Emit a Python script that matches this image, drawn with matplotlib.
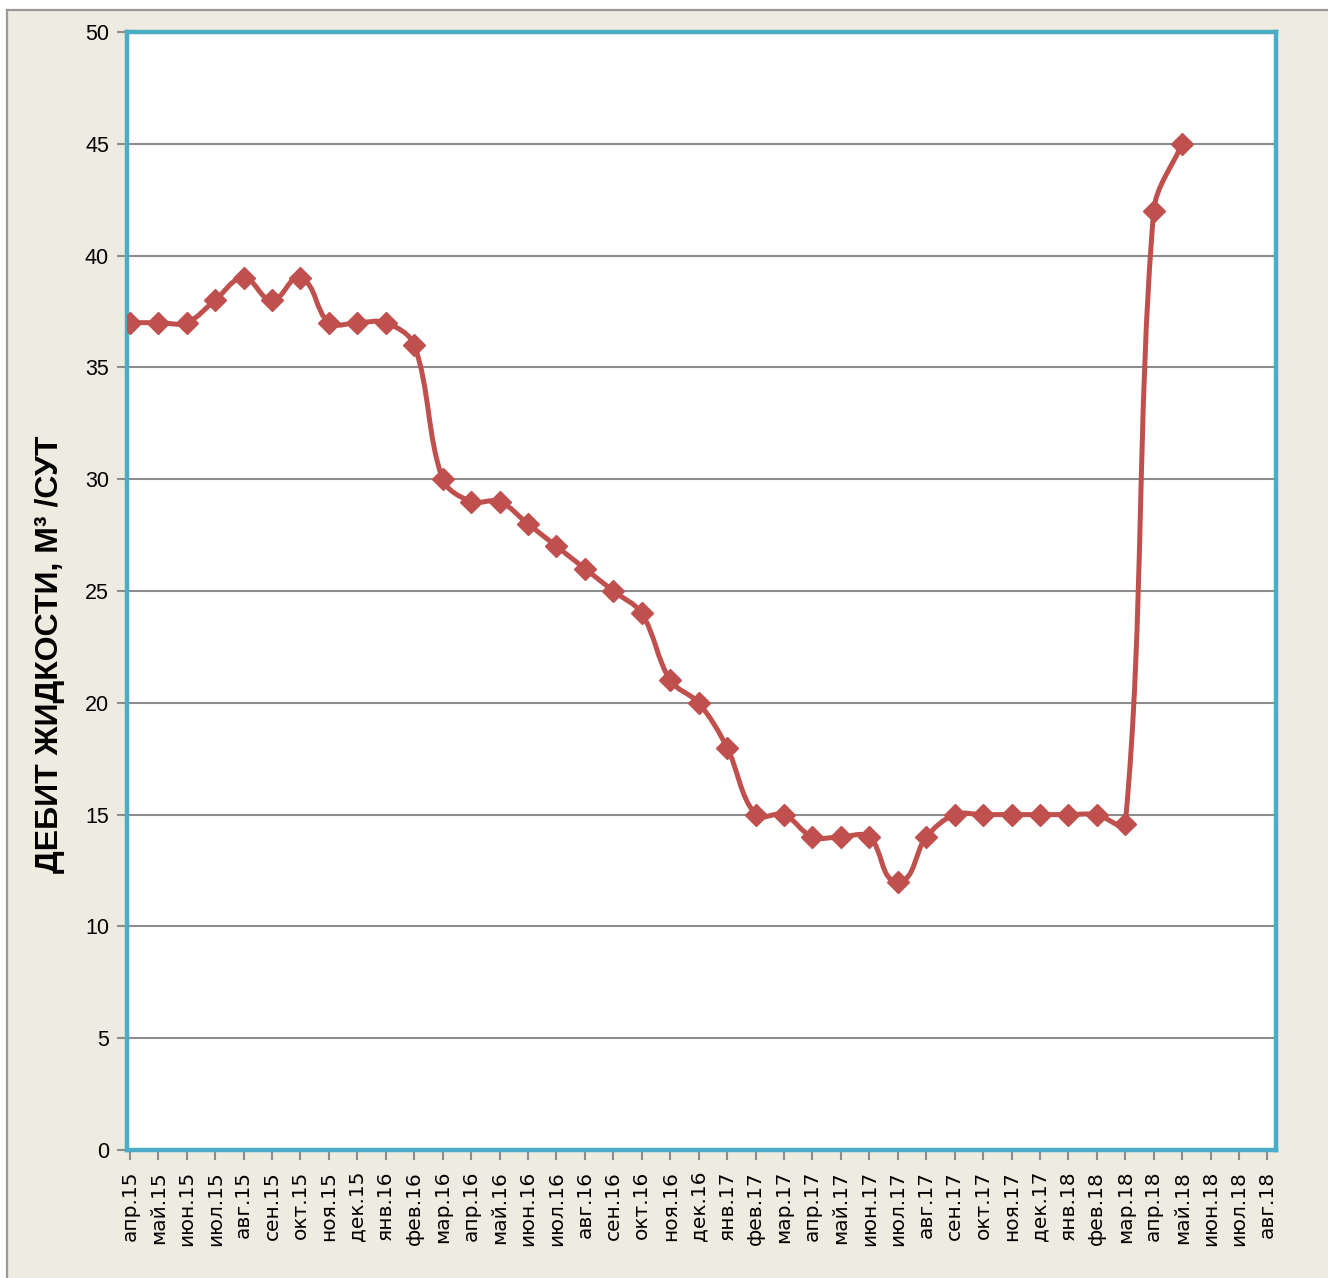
import numpy as np
import matplotlib
matplotlib.use("Agg")
import matplotlib.pyplot as plt
from matplotlib.path import Path
from matplotlib.patches import PathPatch, Rectangle

# категории (месяцы) и значения дебита
months = ["апр.15", "май.15", "июн.15", "июл.15", "авг.15", "сен.15", "окт.15",
          "ноя.15", "дек.15", "янв.16", "фев.16", "мар.16", "апр.16", "май.16",
          "июн.16", "июл.16", "авг.16", "сен.16", "окт.16", "ноя.16", "дек.16",
          "янв.17", "фев.17", "мар.17", "апр.17", "май.17", "июн.17", "июл.17",
          "авг.17", "сен.17", "окт.17", "ноя.17", "дек.17", "янв.18", "фев.18",
          "мар.18", "апр.18", "май.18", "июн.18", "июл.18", "авг.18"]
debit = [37, 37, 37, 38, 39, 38, 39, 37, 37, 37, 36, 30, 29, 29, 28, 27, 26, 25,
         24, 21, 20, 18, 15, 15, 14, 14, 14, 12, 14, 15, 15, 15, 15, 15, 15,
         14.6, 42, 45]
y_ticks = list(range(0, 51, 5))

LINE = "#C0504D"
BLUE = "#4BACC6"
BEIGE = "#EEEBE0"
GRID = "#8C8C8C"


def smooth_path(ax, xs, ys):
    # сглаживание как в Excel: касательная по соседям, плечо = 1/3 длины отрезка
    pts = ax.transData.transform(np.column_stack([xs, ys]).astype(float))
    n = len(pts)
    tang = []
    for i in range(n):
        a = pts[max(i - 1, 0)]
        b = pts[min(i + 1, n - 1)]
        d = b - a
        tang.append(d / np.hypot(*d))
    verts = [pts[0]]
    codes = [Path.MOVETO]
    for i in range(n - 1):
        seg = np.hypot(*(pts[i + 1] - pts[i])) / 3
        verts += [pts[i] + tang[i] * seg, pts[i + 1] - tang[i + 1] * seg, pts[i + 1]]
        codes += [Path.CURVE4] * 3
    verts = ax.transData.inverted().transform(np.array(verts))
    return Path(verts, codes)


fig = plt.figure(figsize=(13.28, 12.78), dpi=100, facecolor="white")
W, H = 1328, 1278
fig.patches.append(Rectangle((7 / W, 0), 1, 1 - 10 / H, transform=fig.transFigure,
                             facecolor=BEIGE, edgecolor="none", zorder=-2))
fig.lines.append(plt.Line2D([7 / W, 7 / W], [0, 1 - 10 / H], transform=fig.transFigure,
                            color="#999999", lw=1.6))
fig.lines.append(plt.Line2D([7 / W, 1], [1 - 10 / H, 1 - 10 / H], transform=fig.transFigure,
                            color="#999999", lw=1.6))

left, right, top, bottom = 127, 1276, 32, 1150
ax = fig.add_axes([left / W, 1 - bottom / H, (right - left) / W, (bottom - top) / H])
ax.set_facecolor("white")
ax.set_xlim(-0.1, 40.3)
ax.set_ylim(0, 50)

x = np.arange(len(debit))
ax.add_patch(PathPatch(smooth_path(ax, x, debit), facecolor="none", edgecolor=LINE,
                       lw=3.6, zorder=3, capstyle="round", joinstyle="round"))
ax.plot(x, debit, linestyle="none", marker="D", markersize=11.5, color=LINE, zorder=4)

ax.set_yticks(y_ticks)
ax.set_xticks(np.arange(len(months)))
ax.set_xticklabels(months, rotation=90, fontsize=14.5, family="DejaVu Sans")
for lbl in ax.get_yticklabels():
    lbl.set_fontsize(15.5)
    lbl.set_family("Liberation Sans")
ax.grid(axis="y", color=GRID, lw=1.5)
ax.set_axisbelow(True)
ax.tick_params(axis="both", direction="out", length=7, width=1.5, color=GRID)
ax.tick_params(axis="x", pad=8)
ax.tick_params(axis="y", pad=6)

for s in ax.spines.values():
    s.set_color(BLUE)
    s.set_linewidth(3.2)

fig.text(50 / W, 1 - 654 / H, "ДЕБИТ ЖИДКОСТИ, М³ /СУТ", rotation=90,
         ha="center", va="center", fontsize=23, fontweight="bold",
         family="Liberation Sans")

fig.savefig("out.png", dpi=100, facecolor=fig.get_facecolor())
